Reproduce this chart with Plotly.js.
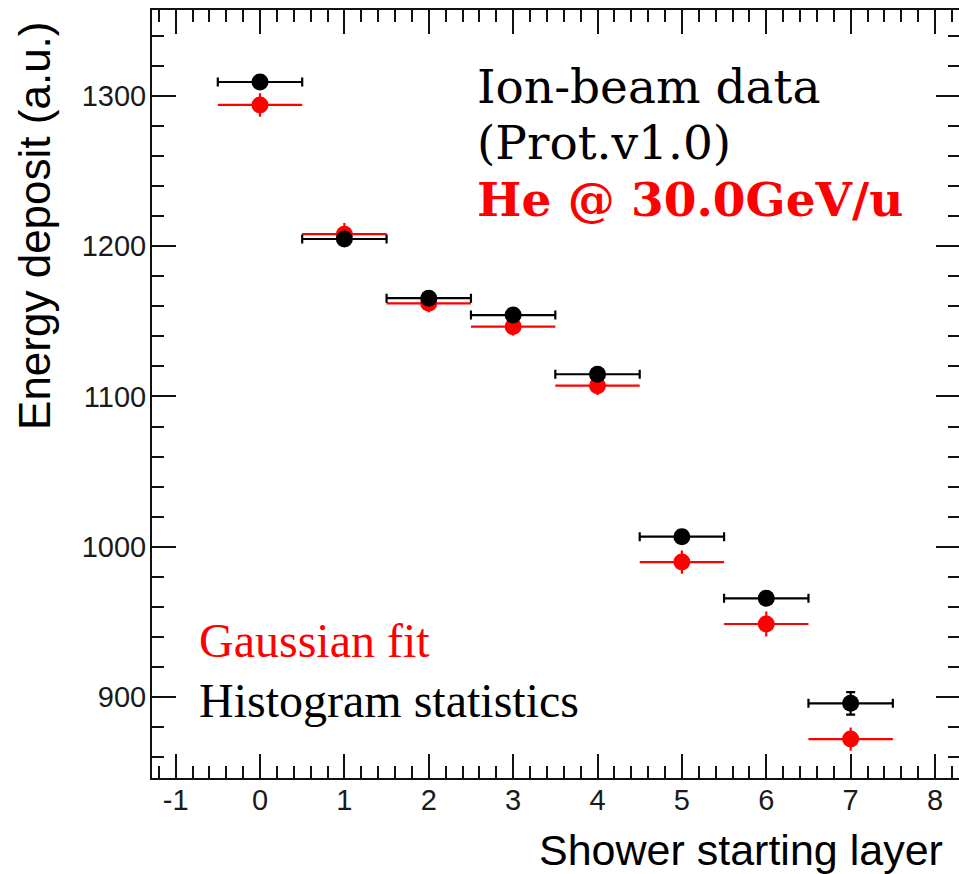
<!DOCTYPE html>
<html>
<head>
<meta charset="utf-8">
<script src="https://cdn.plot.ly/plotly-3.0.1.min.js"></script>
<style>
  html, body { margin: 0; padding: 0; overflow: hidden; background: #fff; }
  #plot { width: 962px; height: 874px; }
</style>
</head>
<body>
<div id="plot"></div>
<script>
// Shower starting layer (x) and mean energy deposit per layer
const layers = [0, 1, 2, 3, 4, 5, 6, 7];
const layerHalfWidth = 0.5;

// Mean from histogram statistics (black)
const histMean = [1309.3, 1204.8, 1165.4, 1154.2, 1114.8, 1006.7, 965.7, 895.8];
const histErr  = [3, 3, 3, 3, 3, 4, 3, 7.5];

// Mean from Gaussian fit (red)
const gausMean = [1294.0, 1208.0, 1162.0, 1146.5, 1107.2, 989.8, 948.6, 872.0];
const gausErr  = [7.8, 7.5, 6, 6, 6.2, 7.7, 8.3, 7.7];

const xTickVals = [-1, 0, 1, 2, 3, 4, 5, 6, 7, 8];
const yTickVals = [900, 1000, 1100, 1200, 1300];

const gaussTrace = {
  x: layers, y: gausMean, type: 'scatter', mode: 'markers',
  marker: { color: '#ff0000', size: 17, symbol: 'circle' },
  error_x: { type: 'constant', value: layerHalfWidth, color: '#ff0000', thickness: 2.2, width: 0 },
  error_y: { type: 'data', array: gausErr, visible: true, color: '#ff0000', thickness: 2.2, width: 0 },
  hoverinfo: 'skip'
};

const histTrace = {
  x: layers, y: histMean, type: 'scatter', mode: 'markers',
  marker: { color: '#000000', size: 17, symbol: 'circle' },
  error_x: { type: 'constant', value: layerHalfWidth, color: '#000000', thickness: 2.2, width: 4.5 },
  error_y: { type: 'data', array: histErr, visible: true, color: '#000000', thickness: 2.2, width: 4.5 },
  hoverinfo: 'skip'
};

const axisCommon = {
  ticks: 'inside', ticklen: 24, tickwidth: 2, tickcolor: '#111',
  showline: true, linewidth: 2, linecolor: '#111', mirror: 'allticks',
  showgrid: false, zeroline: false,
  tickfont: { family: 'Liberation Sans, Arial, sans-serif', size: 29, color: '#1a1a1a' }
};

const serifLine = (text, y, color, bold) => ({
  xref: 'paper', yref: 'paper', x: 0.3998, y: y, xanchor: 'left', yanchor: 'top',
  align: 'left', showarrow: false,
  font: { family: 'DejaVu Serif, serif', size: 47, color: color, weight: bold ? 'bold' : 'normal' },
  text: text
});

const legendLine = (text, y, color) => ({
  xref: 'paper', yref: 'paper', x: 0.0557, y: y, xanchor: 'left', yanchor: 'top',
  align: 'left', showarrow: false,
  font: { family: 'Liberation Serif, Times New Roman, serif', size: 48, color: color },
  text: text
});

const layout = {
  width: 962, height: 874,
  margin: { l: 152, r: 2, t: 10, b: 96 },
  paper_bgcolor: '#ffffff', plot_bgcolor: '#ffffff',
  showlegend: false,
  xaxis: Object.assign({}, axisCommon, {
    range: [-1.28, 8.296],
    tickmode: 'array', tickvals: xTickVals, ticktext: xTickVals.map(String),
    ticklabelstandoff: -5,
    minor: { dtick: 0.2, tick0: 0, ticks: 'inside', ticklen: 12, tickwidth: 2, tickcolor: '#111', showgrid: false }
  }),
  yaxis: Object.assign({}, axisCommon, {
    range: [846.1, 1357.2],
    tickmode: 'array', tickvals: yTickVals, ticktext: yTickVals.map(String),
    ticklabelstandoff: -2,
    minor: { dtick: 20, tick0: 0, ticks: 'inside', ticklen: 12, tickwidth: 2, tickcolor: '#111', showgrid: false }
  }),
  annotations: [
    serifLine('Ion-beam data', 0.9388, '#000000', false),
    serifLine('(Prot.v1.0)', 0.866, '#000000', false),
    serifLine('<b>He @ 30.0GeV/u</b>', 0.7917, '#ff0000', true),
    legendLine('Gaussian fit', 0.2161, '#ff0000'),
    legendLine('Histogram statistics', 0.138, '#000000'),
    {
      xref: 'paper', yref: 'paper', x: 0.9814, y: -0.094, xanchor: 'right', yanchor: 'middle',
      showarrow: false,
      font: { family: 'Liberation Sans, Arial, sans-serif', size: 43, color: '#000' },
      text: 'Shower starting layer'
    },
    {
      xref: 'paper', yref: 'paper', x: -0.1448, y: 0.7188, xanchor: 'center', yanchor: 'middle',
      textangle: -90, showarrow: false,
      font: { family: 'Liberation Sans, Arial, sans-serif', size: 44, color: '#000' },
      text: 'Energy deposit (a.u.)'
    }
  ]
};

Plotly.newPlot('plot', [gaussTrace, histTrace], layout, { staticPlot: true, displayModeBar: false });
</script>
</body>
</html>
